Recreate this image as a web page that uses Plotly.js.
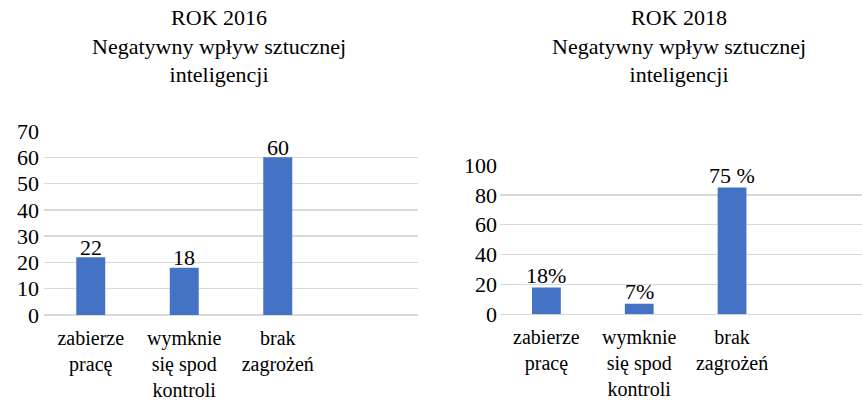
<!DOCTYPE html>
<html><head><meta charset="utf-8">
<script src="https://cdn.plot.ly/plotly-3.0.1.min.js"></script>
<style>html,body{margin:0;padding:0;background:#fff}#c{width:862px;height:402px}</style>
</head><body><div id="c"></div>
<script>
const categories = ["zabierze<br>pracę", "wymknie<br>się spod<br>kontroli", "brak<br>zagrożeń", " "];
const values2016 = [22, 18, 60];
const labels2016 = ["22", "18", "60"];
const values2018 = [18, 7, 85];
const labels2018 = ["18%", "7%", "75 %"];
const title2016 = "ROK 2016<br>Negatywny wpływ sztucznej<br>inteligencji";
const title2018 = "ROK 2018<br>Negatywny wpływ sztucznej<br>inteligencji";

const FONT = "Liberation Serif";
const barColor = "#4472C4";
const grid = "#d9d9d9";
const cats = categories.slice(0, 3);

const traces = [
  {type: "bar", x: cats, y: values2016, marker: {color: barColor}, width: 0.31,
   xaxis: "x", yaxis: "y", hoverinfo: "none"},
  {type: "bar", x: cats, y: values2018, marker: {color: barColor}, width: 0.31,
   xaxis: "x2", yaxis: "y2", hoverinfo: "none"}
];

const xBase = {type: "category", categoryarray: categories, categoryorder: "array",
  showgrid: false, showline: false, zeroline: false, ticks: "", ticklabelstandoff: 9,
  tickfont: {family: FONT, size: 20, color: "#000"}, fixedrange: true};
const yBase = {showgrid: true, gridcolor: grid, gridwidth: 1.5, zeroline: true, zerolinecolor: grid,
  zerolinewidth: 1.5, showline: false, ticks: "", tickfont: {family: FONT, size: 22, color: "#000"},
  fixedrange: true};

const labelAnn = (xs, ys, ts, xr, yr, shift) => xs.map((c, i) => ({
  text: ts[i], x: c, y: ys[i], xref: xr, yref: yr, xanchor: "center", yanchor: "middle",
  yshift: shift, showarrow: false, font: {family: FONT, size: 22, color: "#000"}}));

const layout = {
  width: 862, height: 402, margin: {l: 0, r: 0, t: 0, b: 0},
  paper_bgcolor: "#fff", plot_bgcolor: "#fff", showlegend: false,
  font: {family: FONT, color: "#000"},
  xaxis: Object.assign({}, xBase, {domain: [44/862, 418/862], range: [-0.5, 3.5], anchor: "y"}),
  yaxis: Object.assign({}, yBase, {domain: [(402-315)/402, (402-131)/402], range: [0, 70], dtick: 10, anchor: "x", ticklabelstandoff: 4}),
  xaxis2: Object.assign({}, xBase, {domain: [500/862, 1], range: [-0.5, 3.4], anchor: "y2"}),
  yaxis2: Object.assign({}, yBase, {domain: [(402-314.3)/402, (402-165)/402], range: [0, 100], dtick: 20, anchor: "x2", ticklabelstandoff: 2}),
  annotations: [
    {text: title2016, xref: "paper", yref: "paper", x: 219/862, y: 1 - 3/402, xanchor: "center", yanchor: "top",
     showarrow: false, font: {family: FONT, size: 22, color: "#000"}},
    {text: title2018, xref: "paper", yref: "paper", x: 679/862, y: 1 - 3/402, xanchor: "center", yanchor: "top",
     showarrow: false, font: {family: FONT, size: 22, color: "#000"}}
  ].concat(labelAnn(cats, values2016, labels2016, "x", "y", 10))
   .concat(labelAnn(cats, values2018, labels2018, "x2", "y2", 12))
};
Plotly.newPlot("c", traces, layout, {displayModeBar: false, staticPlot: true});
</script></body></html>
